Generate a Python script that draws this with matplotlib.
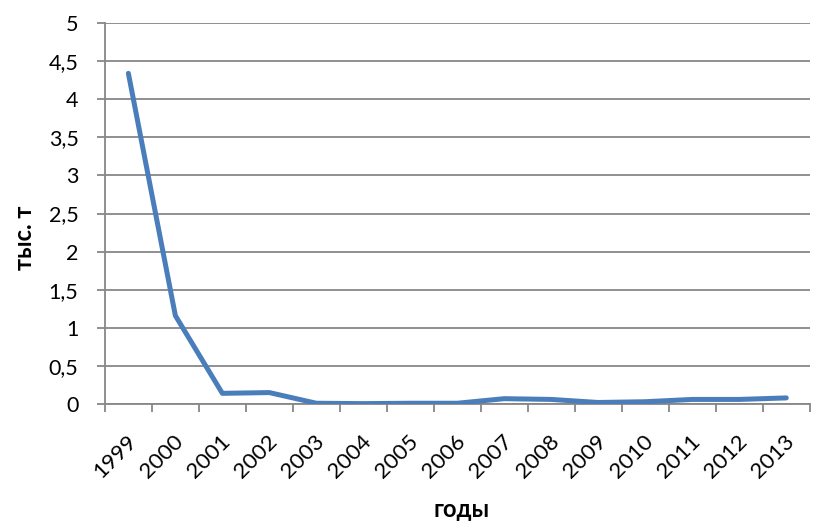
import matplotlib
matplotlib.use("Agg")
import matplotlib.pyplot as plt
import matplotlib.transforms as mtransforms
import numpy as np

years = ["1999", "2000", "2001", "2002", "2003", "2004", "2005", "2006",
         "2007", "2008", "2009", "2010", "2011", "2012", "2013"]
values = [4.34, 1.16, 0.14, 0.15, 0.01, 0.005, 0.01, 0.01,
          0.07, 0.06, 0.02, 0.03, 0.06, 0.06, 0.08]
yticks = [0, 0.5, 1, 1.5, 2, 2.5, 3, 3.5, 4, 4.5, 5]
ytick_labels = ["0", "0,5", "1", "1,5", "2", "2,5", "3", "3,5", "4", "4,5", "5"]

plt.rcParams['font.family'] = ['Lato', 'DejaVu Sans']
fig = plt.figure(figsize=(8.13, 5.24), dpi=100)
ax = fig.add_axes([0.129, 0.229, 0.867, 0.727])

x = np.arange(len(years))
grid_c = "#878787"
ax.plot(x, values, color="#4A7EBB", lw=3.6, solid_capstyle="round",
        solid_joinstyle="round", zorder=3)

ax.set_xlim(-0.5, len(years) - 0.5)
ax.set_ylim(0, 5)
ax.set_yticks(yticks)
ax.set_yticklabels(ytick_labels, fontsize=15.5)
ax.yaxis.grid(True, color=grid_c, lw=1.3)
ax.set_axisbelow(True)

ax.set_xticks(x)
ax.set_xticklabels(years, fontsize=16, rotation=45, ha="right", va="center",
                   rotation_mode="anchor")
ax.set_xticks(np.arange(-0.5, len(years)), minor=True)
ax.tick_params(axis="x", which="major", length=0, pad=25)
ax.tick_params(axis="x", which="minor", length=6, width=1.3, color=grid_c)
ax.tick_params(axis="y", length=6, width=1.3, color=grid_c, pad=13)
for lbl in ax.get_xticklabels():
    lbl.set_transform(lbl.get_transform() +
                      mtransforms.ScaledTranslation(0.05, 0, fig.dpi_scale_trans))

for s in ["top", "right"]:
    ax.spines[s].set_visible(False)
ax.spines["left"].set_color(grid_c)
ax.spines["bottom"].set_color(grid_c)
ax.spines["left"].set_linewidth(1.3)
ax.spines["bottom"].set_linewidth(1.3)

fig.text(0.030, 0.546, "тыс. т", fontsize=17, fontweight="bold",
         rotation=90, ha="center", va="center")
fig.text(0.568, 0.027, "годы", fontsize=17, fontweight="bold",
         ha="center", va="center")

fig.savefig("out.png", dpi=100)
